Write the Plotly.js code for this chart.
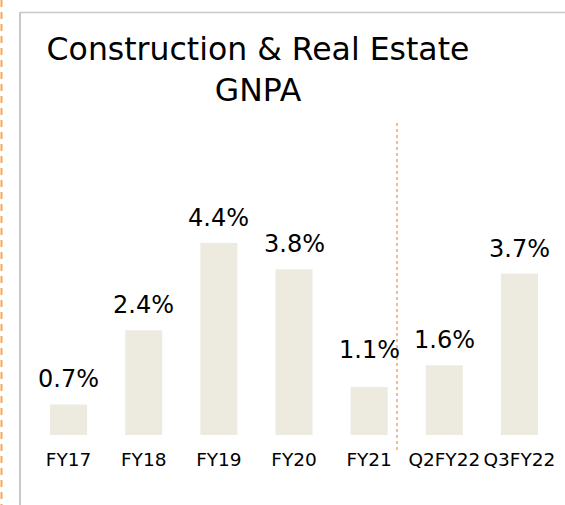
<!DOCTYPE html>
<html>
<head>
<meta charset="utf-8">
<script src="https://cdn.plot.ly/plotly-3.0.1.min.js"></script>
<style>html,body{margin:0;padding:0;background:#fff;}#chart{width:565px;height:505px;}</style>
</head>
<body>
<div id="chart"></div>
<script>
const categories = ["FY17", "FY18", "FY19", "FY20", "FY21", "Q2FY22", "Q3FY22"];
const gnpaValues = [0.7, 2.4, 4.4, 3.8, 1.1, 1.6, 3.7];
const valueLabels = ["0.7%", "2.4%", "4.4%", "3.8%", "1.1%", "1.6%", "3.7%"];
const titleLines = ["Construction & Real Estate", "GNPA"];

// pixel helpers for decorative shapes (plot area: left 31, width 526, bottom 435, height 330)
const L = 31, W = 526, B = 435, H = 330;
const px = v => (v - L) / W;
const py = v => (B - v) / H;

const trace = {
  type: "bar",
  x: categories,
  y: gnpaValues,
  marker: { color: "#EDEAE0" },
  hoverinfo: "skip"
};

const labelShift = categories.map((c, i) => (c === "FY21" ? 21 : 9));
const annotations = categories.map((c, i) => ({
  x: c, y: gnpaValues[i], xref: "x", yref: "y",
  text: valueLabels[i], showarrow: false,
  yanchor: "bottom", yshift: labelShift[i],
  font: { family: "DejaVu Sans", size: 24, color: "#000" }
}));

const layout = {
  width: 565, height: 505,
  margin: { l: L, r: 565 - L - W, t: B - H, b: 505 - B, pad: 0 },
  paper_bgcolor: "#fff", plot_bgcolor: "#fff",
  showlegend: false,
  bargap: 0.507,
  font: { family: "DejaVu Sans", color: "#000" },
  title: {
    text: titleLines.join("<br>"),
    x: 258 / 565, xanchor: "center", xref: "container",
    y: 1 - 60 / 505, yanchor: "top", yref: "container",
    font: { family: "DejaVu Sans", size: 31.5, color: "#000" }
  },
  xaxis: {
    range: [-0.5, 6.5], showgrid: false, zeroline: false, showline: false,
    ticks: "", tickangle: 0, automargin: false, ticklabelstandoff: 11,
    tickfont: { family: "DejaVu Sans", size: 18.5, color: "#000" },
    fixedrange: true
  },
  yaxis: { range: [0, H / 43.64], visible: false, fixedrange: true },
  annotations: annotations,
  shapes: [
    { type: "line", xref: "paper", yref: "paper", x0: px(1.5), x1: px(1.5), y0: py(0), y1: py(505),
      line: { color: "#F5A55A", width: 2, dash: "7px,5px" } },
    { type: "line", xref: "paper", yref: "paper", x0: px(20), x1: px(20), y0: py(12), y1: py(505),
      line: { color: "#C8C8C8", width: 2 } },
    { type: "line", xref: "paper", yref: "paper", x0: px(20), x1: px(566), y0: py(12.5), y1: py(12.5),
      line: { color: "#C8C8C8", width: 1.5 } },
    { type: "line", xref: "paper", yref: "paper", x0: px(397), x1: px(397), y0: py(123), y1: py(450),
      line: { color: "#F09850", width: 1.3, dash: "dot" } }
  ]
};

Plotly.newPlot("chart", [trace], layout, { displayModeBar: false, staticPlot: true });
</script>
</body>
</html>
